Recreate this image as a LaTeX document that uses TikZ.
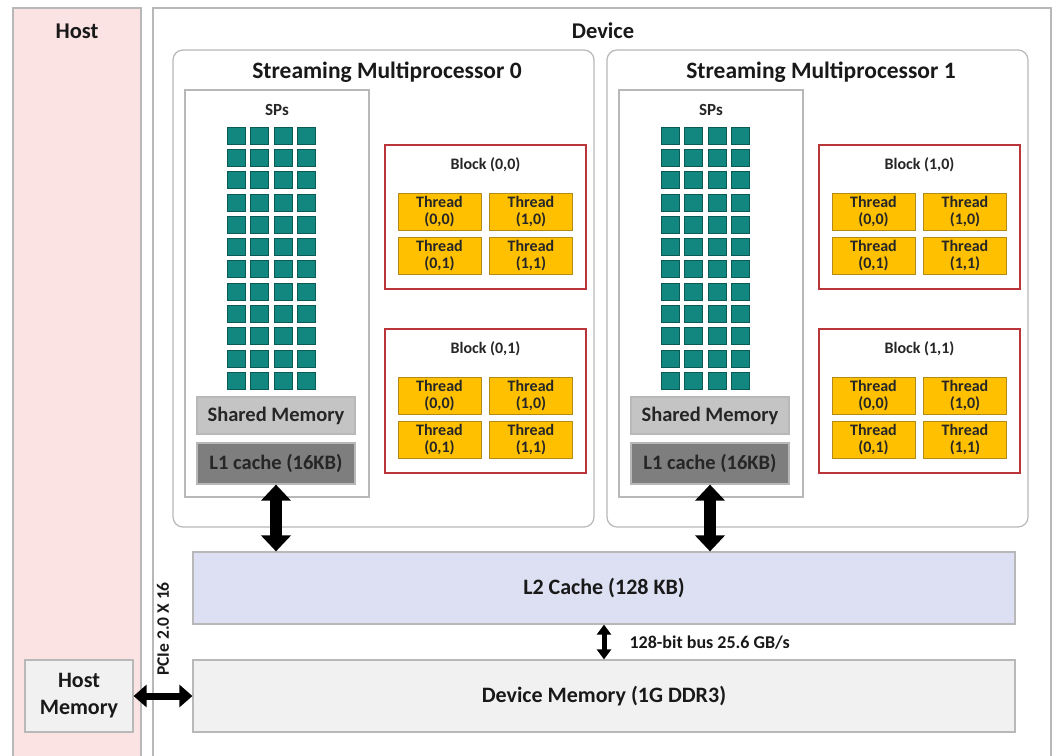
\documentclass[tikz,border=0pt]{standalone}
\usepackage{fontspec}
\setmainfont{Carlito}
\usetikzlibrary{arrows.meta,positioning}
\definecolor{hostpink}{HTML}{FBE2E3}
\definecolor{edgegray}{HTML}{B8B8B8}
\definecolor{spteal}{HTML}{12877F}
\definecolor{spedge}{HTML}{0B5A55}
\definecolor{blockred}{HTML}{B8353A}
\definecolor{threadgold}{HTML}{FFC000}
\definecolor{threadedge}{HTML}{B38A1A}
\definecolor{shmgray}{HTML}{C4C4C4}
\definecolor{lonegray}{HTML}{7E7E7E}
\definecolor{ltwoblue}{HTML}{DCE0F2}
\definecolor{memgray}{HTML}{F1F1F1}

\begin{document}
\begin{tikzpicture}[x=1pt, y=-1pt,
  panel/.style={draw=edgegray, line width=1.2pt, inner sep=0pt},
  title/.style={font=\fontsize{22.5}{26}\selectfont\bfseries, text=black!90},
  smbox/.style={panel, rounded corners=10pt, minimum width=421pt,
    minimum height=477pt},
  spgrid/.style={fill=spteal, draw=spedge, line width=0.8pt,
    minimum width=18pt, minimum height=17pt, inner sep=0pt},
  memblock/.style={panel, minimum width=158pt, text=black!85,
    font=\fontsize{20.5}{24}\selectfont\bfseries},
  blockbox/.style={draw=blockred, line width=1.6pt, minimum width=201pt,
    minimum height=144pt, inner sep=0pt},
  small/.style={font=\fontsize{16}{18}\selectfont\bfseries, text=black!85},
  thread/.style={fill=threadgold, draw=threadedge, line width=0.8pt,
    minimum width=83pt, minimum height=37pt, inner sep=0pt, align=center,
    font=\fontsize{16}{17.5}\selectfont\bfseries, text=black!85},
  bus/.style={panel, minimum width=822pt, minimum height=72pt,
    font=\fontsize{22}{26}\selectfont\bfseries, text=black!90},
  bigarrow/.style={line width=12pt,
    {Triangle[width=29pt,length=16pt]}-{Triangle[width=29pt,length=16pt]}},
  midarrow/.style={line width=7pt,
    {Triangle[width=22pt,length=13pt]}-{Triangle[width=22pt,length=13pt]}},
  smallarrow/.style={line width=5pt,
    {Triangle[width=14pt,length=10pt]}-{Triangle[width=14pt,length=10pt]}}]
\useasboundingbox (0,0) rectangle (1057,755);

% host and device panels
\node (host) [panel, fill=hostpink, minimum width=128pt, minimum height=757pt]
  at (77,386.5) {};
\node (hostlbl) [title] at (77,31) {Host};
\node (device) [panel, fill=white, minimum width=898pt, minimum height=757pt]
  at (602,386.5) {};
\node (devlbl) [title] at (603,31) {Device};

% the two streaming multiprocessors
\foreach \i/\dx in {0/0,1/434} {
  \node (sm\i) [smbox] at (383.5+\dx,288.5) {};
  \node (smlbl\i) [title, font=\fontsize{23.5}{26}\selectfont\bfseries]
    at (387+\dx,72) {Streaming Multiprocessor \i};
  \node (sps\i) [panel, minimum width=184pt, minimum height=407pt]
    at (277+\dx,293.5) {};
  \node (spslbl\i) [small, font=\fontsize{17}{18}\selectfont\bfseries]
    at (277+\dx,110) {SPs};
  \foreach \r in {0,...,11}
    \foreach \c in {0,...,3}
      \node (sp\i-\r-\c) [spgrid] at (236.5+\dx+23.3*\c,135.5+22.3*\r) {};
  \node (shm\i) [memblock, fill=shmgray, minimum height=37pt]
    at (276+\dx,415.5) {Shared Memory};
  \node (lone\i) [memblock, fill=lonegray, minimum height=41pt]
    at (276+\dx,463.5) {L1 cache (16KB)};
  \foreach \b in {0,1} {
    \node (blk\i\b) [blockbox] at (485.5+\dx,217+184*\b) {};
    \node (blklbl\i\b) [small] at (485.5+\dx,165+184*\b) {Block (\i,\b)};
    \foreach \tx/\ty in {0/0,1/0,0/1,1/1}
      \node (th\i\b\tx\ty) [thread] at (439.5+\dx+91.5*\tx,211.5+184*\b+44*\ty)
        {Thread\\(\tx,\ty)};
  }
}

% caches and memories
\node (ltwo) [bus, fill=ltwoblue] at (604,588) {L2 Cache (128 KB)};
\node (dmem) [bus, fill=memgray] at (604,696) {Device Memory (1G DDR3)};
\node (hmem) [panel, fill=memgray, minimum width=108pt, minimum height=72pt,
  align=center, font=\fontsize{22}{27}\selectfont\bfseries, text=black!90]
  at (79,696) {Host\\Memory};

\draw[bigarrow] (lone0.south) -- (lone0.south |- ltwo.north);
\draw[bigarrow] (lone1.south) -- (lone1.south |- ltwo.north);
\draw[smallarrow] (ltwo.south) -- (dmem.north);
\node (buslbl) [anchor=west, font=\fontsize{18}{20}\selectfont\bfseries,
  text=black!90] at (626,643) {128-bit bus 25.6 GB/s};
\draw[midarrow] (hmem.east) -- (dmem.west);
\node (pcielbl) [rotate=90, font=\fontsize{17.5}{20}\selectfont\bfseries,
  text=black!90] at (163,629) {PCIe 2.0 X 16};
\end{tikzpicture}
\end{document}
